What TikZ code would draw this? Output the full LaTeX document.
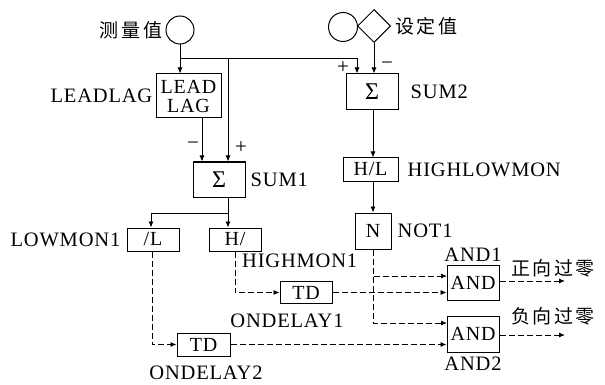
\documentclass[tikz,border=0pt]{standalone}
\usepackage{fontspec}
\setmainfont{Liberation Serif}[LetterSpace=4]
\newfontfamily\cjk[LetterSpace=14]{Noto Sans CJK SC}
\usetikzlibrary{positioning,arrows.meta,shapes.geometric}

\begin{document}
\begin{tikzpicture}[x=1pt,y=-1pt,
  blk/.style={draw, line width=1pt, inner sep=0pt, align=center, font=\fontsize{20}{19}\selectfont},
  lbl/.style={inner sep=1pt, font=\fontsize{20.5}{21}\selectfont},
  zh/.style={inner sep=1pt, font=\fontsize{19}{19}\selectfont\cjk},
  sgn/.style={inner sep=0pt, font=\fontsize{21}{21}\selectfont},
  flow/.style={-{Latex[length=6pt,width=5pt]}, line width=0.9pt},
  dflow/.style={flow, dash pattern=on 6pt off 3pt}]
  \useasboundingbox (0,0) rectangle (605,385);

  % inputs
  \node[circle, draw, line width=1pt, minimum size=28pt, inner sep=0pt] (meas) at (180,30) {};
  \node[zh, left=2pt of meas] {测量值};
  \node[circle, draw, line width=1pt, minimum size=29pt, inner sep=0pt] (setc) at (343,27) {};
  \node[diamond, draw, line width=1pt, minimum size=33pt, inner sep=0pt] (setd) at (374,26) {};
  \node[zh, right=3pt of setd] {设定值};

  % blocks
  \node[blk, minimum width=65pt, minimum height=44pt] (leadlag) at (188.5,96) {LEAD\\LAG};
  \node[lbl, left=2pt of leadlag] {LEADLAG};
  \node[blk, minimum width=52pt, minimum height=35pt, font=\fontsize{24}{24}\selectfont] (sum1) at (219,179.5) {Σ};
  \node[lbl, right=4pt of sum1] {SUM1};
  \node[blk, minimum width=52pt, minimum height=36pt, font=\fontsize{24}{24}\selectfont] (sum2) at (372,92) {Σ};
  \node[lbl, right=11pt of sum2] {SUM2};
  \node[blk, minimum width=55pt, minimum height=23pt] (hilo) at (370.5,169.5) {H/L};
  \node[lbl, right=8pt of hilo] {HIGHLOWMON};
  \node[blk, minimum width=36pt, minimum height=36pt] (not1) at (373,231) {N};
  \node[lbl, right=5pt of not1] {NOT1};
  \node[blk, minimum width=52pt, minimum height=23pt] (low1) at (153,239.5) {/L};
  \node[lbl, left=5pt of low1] {LOWMON1};
  \node[blk, minimum width=52pt, minimum height=23pt] (high1) at (235,239.5) {H/};
  \node[lbl, anchor=west] at (241,261) {HIGHMON1};
  \node[blk, minimum width=52pt, minimum height=22pt] (td1) at (306,292.5) {TD};
  \node[lbl] at (287,321) {ONDELAY1};
  \node[blk, minimum width=53pt, minimum height=23pt] (td2) at (203.5,344.5) {TD};
  \node[lbl] at (206,373) {ONDELAY2};
  \node[blk, minimum width=52pt, minimum height=35pt] (and1) at (473,282.5) {AND};
  \node[lbl, above=2pt of and1] {AND1};
  \node[blk, minimum width=52pt, minimum height=36pt] (and2) at (473,334) {AND};
  \node[lbl, below=3pt of and2] {AND2};

  % solid signal lines
  \coordinate (j1) at (180,58);
  \coordinate (j2) at (228,213);
  \coordinate (out1) at (565,281);
  \coordinate (out2) at (565,335);
  \draw[flow] (meas.south) -- (meas.south |- leadlag.north);
  \draw[flow] (j1) -| (357,0 |- sum2.north);
  \draw[flow] (228,58) -- (228,0 |- sum1.north);
  \draw[flow] (202,0 |- leadlag.south) -- (202,0 |- sum1.north);
  \draw[flow] (setd.south) -- (setd.south |- sum2.north);
  \draw[flow] (373,0 |- sum2.south) -- (373,0 |- hilo.north);
  \draw[flow] (373,0 |- hilo.south) -- (not1.north);
  \draw[flow] (228,0 |- sum1.south) -- (228,0 |- high1.north);
  \draw[flow] (j2) -| (151,0 |- low1.north);
  \node[sgn] at (193,146) {−};
  \node[sgn] at (241,148) {+};
  \node[sgn] at (343,68) {+};
  \node[sgn] at (387,66) {−};

  % dashed logic lines
  \draw[dflow] (235,0 |- high1.south) |- (td1.west);
  \draw[dflow] (152,0 |- low1.south) |- (td2.west);
  \draw[dflow] (td1.east) -- (td1.east -| and1.west);
  \draw[dflow] (td2.east) -- (td2.east -| and2.west);
  \draw[dflow] (not1.south) |- (447,276);
  \draw[dflow] (not1.south) |- (447,323);
  \draw[dflow] (and1.east |- out1) -- (out1);
  \draw[dflow] (and2.east |- out2) -- (out2);
  \node[zh] at (553,268) {正向过零};
  \node[zh] at (553,316) {负向过零};
\end{tikzpicture}
\end{document}
